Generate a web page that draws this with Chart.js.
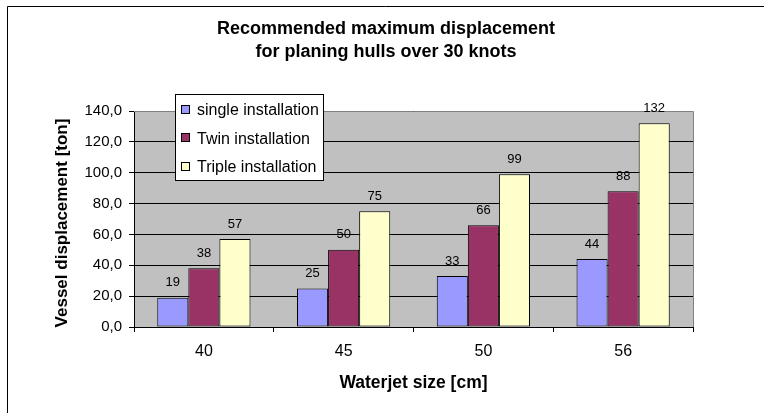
<!DOCTYPE html>
<html>
<head>
<meta charset="utf-8">
<script src="https://cdn.jsdelivr.net/npm/chart.js@4/dist/chart.umd.min.js"></script>
<style>
  html, body { margin: 0; padding: 0; background: #fff; }
  #wrap { width: 764px; height: 413px; position: relative; }
</style>
</head>
<body>
<div id="wrap"><canvas id="c" width="764" height="413"></canvas></div>
<script>
// Waterjet sizes (cm) and recommended maximum displacement (ton)
const sizes = ['40', '45', '50', '56'];
const singleInstallation = [19, 25, 33, 44];
const twinInstallation = [38, 50, 66, 88];
const tripleInstallation = [57, 75, 99, 132];
const seriesNames = ['single installation', 'Twin installation', 'Triple installation'];
const yMin = 0, yMax = 140, yStep = 20;

const chartTitle = ['Recommended maximum displacement', 'for planing hulls over 30 knots'];
const xTitle = 'Waterjet size [cm]';
const yTitle = 'Vessel displacement [ton]';

const FONT = '"Liberation Sans", Arial, Helvetica, sans-serif';

const decorations = {
  id: 'decorations',
  beforeDraw(chart) {
    const { ctx, chartArea: a } = chart;
    ctx.save();
    ctx.fillStyle = '#fff';
    ctx.fillRect(0, 0, chart.width, chart.height);
    // outer frame (left and top edges)
    ctx.strokeStyle = '#000';
    ctx.lineWidth = 1;
    ctx.beginPath();
    ctx.moveTo(7.5, chart.height);
    ctx.lineTo(7.5, 6.5);
    ctx.lineTo(chart.width, 6.5);
    ctx.stroke();
    // plot area background
    ctx.fillStyle = '#c0c0c0';
    ctx.fillRect(a.left, a.top, a.right - a.left, a.bottom - a.top);
    ctx.restore();
  },
  beforeDatasetsDraw(chart) {
    const { ctx, chartArea: a } = chart;
    ctx.save();
    ctx.strokeStyle = '#808080';
    ctx.lineWidth = 1;
    ctx.beginPath();
    ctx.moveTo(a.left, Math.round(a.top) + 0.5);
    ctx.lineTo(Math.round(a.right) + 0.5, Math.round(a.top) + 0.5);
    ctx.lineTo(Math.round(a.right) + 0.5, a.bottom);
    ctx.stroke();
    ctx.restore();
  },
  afterDatasetsDraw(chart) {
    const { ctx } = chart;
    ctx.save();
    ctx.fillStyle = '#000';
    ctx.font = '13px ' + FONT;
    ctx.textAlign = 'center';
    ctx.textBaseline = 'middle';
    chart.data.datasets.forEach((ds, i) => {
      chart.getDatasetMeta(i).data.forEach((bar, j) => {
        ctx.fillText(String(ds.data[j]), bar.x, bar.y - 15);
      });
    });
    ctx.restore();
  },
  afterDraw(chart) {
    const { ctx, chartArea: a } = chart;
    ctx.save();
    ctx.fillStyle = '#000';
    ctx.textAlign = 'center';
    ctx.textBaseline = 'middle';
    // chart title
    ctx.font = 'bold 18px ' + FONT;
    ctx.fillText(chartTitle[0], 386, 29);
    ctx.fillText(chartTitle[1], 386, 52);
    // axis titles
    ctx.font = 'bold 17.5px ' + FONT;
    ctx.fillText(xTitle, (a.left + a.right) / 2, 383);
    ctx.save();
    ctx.translate(62, 223);
    ctx.rotate(-Math.PI / 2);
    ctx.font = 'bold 17px ' + FONT;
    ctx.fillText(yTitle, 0, 0);
    ctx.restore();

    // legend box
    const lx = 175.5, ly = 94.5, lw = 148, lh = 86;
    ctx.fillStyle = '#fff';
    ctx.fillRect(lx, ly, lw, lh);
    ctx.strokeStyle = '#000';
    ctx.strokeRect(lx, ly, lw, lh);
    ctx.font = '16px ' + FONT;
    ctx.textAlign = 'left';
    chart.data.datasets.forEach((ds, i) => {
      const cy = 110 + i * 28.3;
      ctx.fillStyle = ds.backgroundColor;
      ctx.fillRect(181.5, Math.round(cy) - 4.5, 8, 8);
      ctx.strokeStyle = '#000';
      ctx.strokeRect(181.5, Math.round(cy) - 4.5, 8, 8);
      ctx.fillStyle = '#000';
      ctx.fillText(ds.label, 197, cy + 1);
    });
    ctx.restore();
  }
};

new Chart(document.getElementById('c'), {
  type: 'bar',
  data: {
    labels: sizes,
    datasets: [
      { label: seriesNames[0], data: singleInstallation, backgroundColor: '#9999ff' },
      { label: seriesNames[1], data: twinInstallation, backgroundColor: '#993366' },
      { label: seriesNames[2], data: tripleInstallation, backgroundColor: '#ffffcc' }
    ].map(d => Object.assign(d, {
      borderColor: '#000',
      borderWidth: 1,
      borderSkipped: false,
      categoryPercentage: 0.667,
      barPercentage: 1.0
    }))
  },
  options: {
    responsive: false,
    animation: false,
    devicePixelRatio: 1,
    layout: { padding: { left: 0, top: 111, right: 71, bottom: 0 } },
    plugins: {
      legend: { display: false },
      title: { display: false },
      tooltip: { enabled: false }
    },
    scales: {
      x: {
        grid: { drawOnChartArea: false, drawTicks: true, tickLength: 5, color: '#000', offset: true },
        border: { color: '#000', width: 1 },
        ticks: { color: '#000', font: { family: FONT, size: 16 }, padding: 10, maxRotation: 0 },
        afterFit(scale) { scale.height = 86; }
      },
      y: {
        min: yMin, max: yMax,
        grid: { color: '#000', lineWidth: 1, tickLength: 5, drawTicks: true },
        border: { color: '#000', width: 1 },
        ticks: {
          stepSize: yStep,
          color: '#000',
          padding: 7,
          font: { family: FONT, size: 15 },
          callback: v => v.toFixed(1).replace('.', ',')
        },
        afterFit(scale) { scale.width = 134; }
      }
    }
  },
  plugins: [decorations]
});
</script>
</body>
</html>
